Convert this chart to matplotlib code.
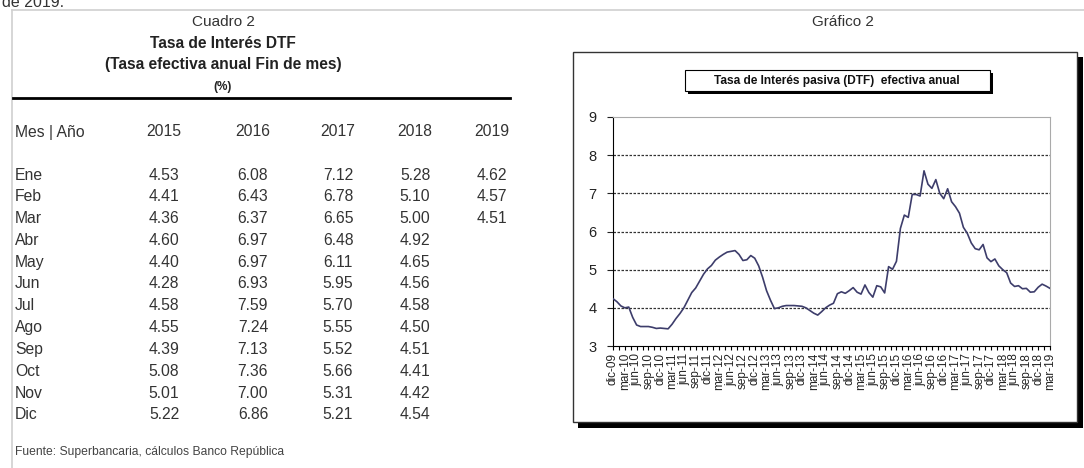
import numpy as np
import matplotlib
matplotlib.use("Agg")
import matplotlib.pyplot as plt
from matplotlib.patches import Rectangle

plt.rcParams['font.family'] = ['Liberation Sans', 'DejaVu Sans']

# Cuadro 2: DTF fin de mes (%)
meses = ['Ene', 'Feb', 'Mar', 'Abr', 'May', 'Jun', 'Jul', 'Ago', 'Sep', 'Oct', 'Nov', 'Dic']
anios = ['2015', '2016', '2017', '2018', '2019']
dtf_2015 = [4.53, 4.41, 4.36, 4.60, 4.40, 4.28, 4.58, 4.55, 4.39, 5.08, 5.01, 5.22]
dtf_2016 = [6.08, 6.43, 6.37, 6.97, 6.97, 6.93, 7.59, 7.24, 7.13, 7.36, 7.00, 6.86]
dtf_2017 = [7.12, 6.78, 6.65, 6.48, 6.11, 5.95, 5.70, 5.55, 5.52, 5.66, 5.31, 5.21]
dtf_2018 = [5.28, 5.10, 5.00, 4.92, 4.65, 4.56, 4.58, 4.50, 4.51, 4.41, 4.42, 4.54]
dtf_2019 = [4.62, 4.57, 4.51]

# Grafico 2: dic-09 a dic-14, despues el cuadro
dtf_2009_2014 = [4.24,
                 4.16, 4.05, 4.00, 4.02, 3.75, 3.55, 3.51, 3.51, 3.51, 3.49, 3.46, 3.47,
                 3.46, 3.45, 3.57, 3.72, 3.85, 4.00, 4.20, 4.40, 4.52, 4.70, 4.88, 5.02,
                 5.11, 5.25, 5.33, 5.40, 5.46, 5.48, 5.50, 5.40, 5.24, 5.26, 5.37, 5.30,
                 5.10, 4.80, 4.45, 4.20, 3.98, 4.00, 4.04, 4.06, 4.06, 4.06, 4.05, 4.04,
                 4.00, 3.93, 3.86, 3.81, 3.90, 4.00, 4.07, 4.12, 4.37, 4.42, 4.38, 4.45]
etiquetas_x = ['dic-09', 'mar-10', 'jun-10', 'sep-10', 'dic-10', 'mar-11', 'jun-11', 'sep-11',
               'dic-11', 'mar-12', 'jun-12', 'sep-12', 'dic-12', 'mar-13', 'jun-13', 'sep-13',
               'dic-13', 'mar-14', 'jun-14', 'sep-14', 'dic-14', 'mar-15', 'jun-15', 'sep-15',
               'dic-15', 'mar-16', 'jun-16', 'sep-16', 'dic-16', 'mar-17', 'jun-17', 'sep-17',
               'dic-17', 'mar-18', 'jun-18', 'sep-18', 'dic-18', 'mar-19']

serie = dtf_2009_2014 + dtf_2015 + dtf_2016 + dtf_2017 + dtf_2018 + dtf_2019
columnas = [dtf_2015, dtf_2016, dtf_2017, dtf_2018, dtf_2019]

W, H = 1084, 468
fig = plt.figure(figsize=(W / 100, H / 100), dpi=100)

# fondo en pixeles para el cuadro y las cajas
bg = fig.add_axes([0, 0, 1, 1])
bg.set_xlim(0, W)
bg.set_ylim(H, 0)
bg.axis('off')

bg.text(2, 7, 'de 2019.', fontsize=11.5, color='#333333', va='baseline', ha='left')
bg.plot([12, W], [10, 10], color='#d0d0d0', lw=1.2)
bg.plot([12, 12], [10, H], color='#d0d0d0', lw=1.2)

# Cuadro 2
bg.text(223, 22, 'Cuadro 2', fontsize=11, color='#333333', ha='center', va='center')
bg.text(223, 43, 'Tasa de Interés DTF', fontsize=11.2, fontweight='bold', color='#222222',
        ha='center', va='center')
bg.text(223, 64, '(Tasa efectiva anual Fin de mes)', fontsize=11.2, fontweight='bold',
        color='#222222', ha='center', va='center')
bg.text(223, 87, '(%)', fontsize=8.5, fontweight='bold', color='#222222', ha='center', va='center')
bg.plot([13, 510], [98, 98], color='black', lw=2)

col_x = [164, 253, 338, 415, 492]
bg.text(15, 132, 'Mes | Año', fontsize=11.3, color='#333333', ha='left', va='center')
for x, a in zip(col_x, anios):
    bg.text(x, 132, a, fontsize=11.3, color='#333333', ha='center', va='center')
for i, m in enumerate(meses):
    y = 175 + 21.8 * i
    bg.text(15, y, m, fontsize=11.3, color='#333333', ha='left', va='center')
    for x, col in zip(col_x, columnas):
        if i < len(col):
            bg.text(x, y, f'{col[i]:.2f}', fontsize=11.3, color='#333333', ha='center', va='center')

bg.text(15, 452, 'Fuente: Superbancaria, cálculos Banco República', fontsize=8.7,
        color='#444444', ha='left', va='center')

# Grafico 2: caja exterior con sombra
bg.text(843, 22, 'Gráfico 2', fontsize=11, color='#333333', ha='center', va='center')
bg.add_patch(Rectangle((578, 57), 505, 371, facecolor='black', edgecolor='none'))
bg.add_patch(Rectangle((573, 52), 504, 370, facecolor='white', edgecolor='#333333', lw=1))
bg.add_patch(Rectangle((688, 73), 305, 21, facecolor='black', edgecolor='none'))
bg.add_patch(Rectangle((685, 70), 305, 21, facecolor='white', edgecolor='black', lw=0.8))
bg.text(837, 81, 'Tasa de Interés pasiva (DTF)  efectiva anual', fontsize=8.6,
        fontweight='bold', color='#111111', ha='center', va='center')

# area del grafico
left, right, top, bottom = 613, 1050, 117, 346
ax = fig.add_axes([left / W, (H - bottom) / H, (right - left) / W, (bottom - top) / H])
ax.plot(np.arange(len(serie)), serie, color='#3d3d6b', lw=1.2, zorder=3)
ax.set_xlim(0, len(serie) - 1)
ax.set_ylim(3, 9)
ax.set_yticks(range(3, 10))
ax.set_xticks(np.arange(0, len(serie), 3))
ax.set_xticklabels(etiquetas_x, rotation=90, fontsize=8.5, color='#222222')
ax.set_xticks(np.arange(1.5, len(serie) - 1, 3), minor=True)
ax.tick_params(axis='y', labelsize=10.5, length=4, width=0.8, pad=8, colors='#222222')
ax.tick_params(axis='x', which='both', length=3, width=0.8, pad=2)
for v in range(4, 9):
    ax.axhline(v, color='#333333', lw=0.9, linestyle=(0, (2, 1.2)), zorder=1)
ax.spines['left'].set_color('black')
ax.spines['bottom'].set_color('black')
ax.spines['top'].set_color('#aaaaaa')
ax.spines['right'].set_color('#aaaaaa')

plt.savefig('out.png', dpi=100)
